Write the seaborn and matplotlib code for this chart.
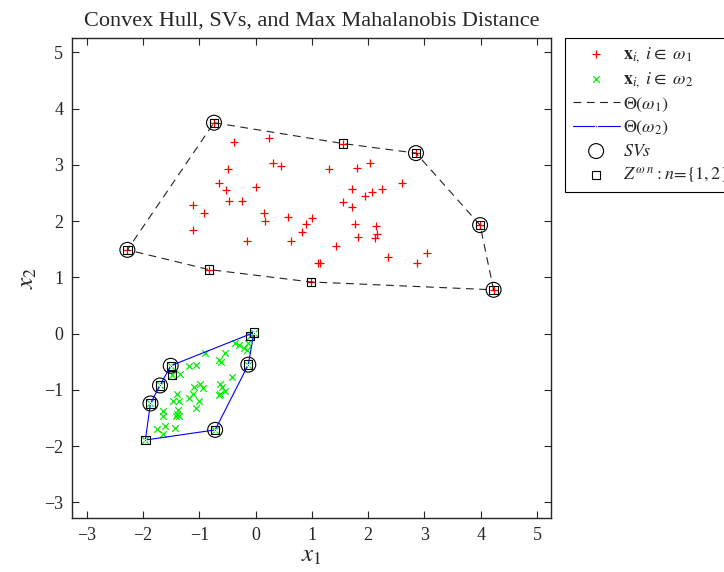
#!/usr/bin/env python3
"""Convex hull, SVs and max Mahalanobis distance (MATLAB-style figure)."""

import matplotlib

matplotlib.use("Agg")
import matplotlib.pyplot as plt
import pandas as pd
import seaborn as sns

# class 1 (red +): hull vertices first, then interior points
hull1_x = [-0.74, 1.55, 2.85, 3.99, 4.23, 0.98, -0.83, -2.28]
hull1_y = [3.75, 3.38, 3.21, 1.93, 0.78, 0.92, 1.14, 1.49]
inner1_x = [-0.39, 0.24, 0.30, 0.45, -0.50, 1.30, 1.81, 2.04, -0.65, -0.53,
            0.00, 2.60, 1.72, 2.25, 2.07, 1.95, -0.47, -0.24, 1.55, 1.71,
            -1.11, -0.92, 0.15, 0.17, 0.57, 1.01, 0.89, 0.83, 1.76, 2.14,
            2.16, 2.13, 1.82, -1.11, -0.15, 0.62, 1.43, 2.35, 3.05, 2.87,
            1.10, 1.15]
inner1_y = [3.40, 3.47, 3.03, 2.98, 2.92, 2.92, 2.95, 3.03, 2.68, 2.55,
            2.60, 2.68, 2.58, 2.58, 2.51, 2.44, 2.35, 2.35, 2.34, 2.25,
            2.28, 2.14, 2.14, 2.00, 2.07, 2.05, 1.95, 1.80, 1.95, 1.92,
            1.77, 1.70, 1.72, 1.85, 1.64, 1.65, 1.56, 1.36, 1.43, 1.25,
            1.25, 1.25]

# class 2 (green x)
hull2_x = [-0.03, -0.13, -0.72, -1.96, -1.87, -1.70, -1.51]
hull2_y = [0.02, -0.55, -1.71, -1.89, -1.24, -0.92, -0.57]
inner2_x = [-0.36, -0.29, -0.20, -0.15, -0.13, -0.10, -0.90, -0.55, -0.65, -0.61,
            -1.19, -1.06, -1.35, -1.49, -0.42, -0.98, -1.09, -0.94, -0.63, -0.59,
            -0.54, -0.64, -0.65, -1.39, -1.11, -1.18, -1.47, -1.36, -1.00, -1.06,
            -1.65, -1.65, -1.38, -1.39, -1.42, -1.36, -1.76, -1.61, -1.64, -1.43]
inner2_y = [-0.16, -0.20, -0.26, -0.29, -0.16, -0.04, -0.34, -0.34, -0.46, -0.51,
            -0.58, -0.55, -0.71, -0.73, -0.77, -0.89, -0.95, -0.96, -0.89, -0.95,
            -1.02, -1.07, -1.09, -1.07, -1.08, -1.15, -1.19, -1.19, -1.20, -1.32,
            -1.38, -1.46, -1.36, -1.43, -1.46, -1.47, -1.69, -1.64, -1.78, -1.68]

# support vectors (circles) and Z points (squares)
sv_x = [-0.74, 2.85, 3.99, 4.23, -2.28, -0.13, -0.72, -1.87, -1.70, -1.51]
sv_y = [3.75, 3.21, 1.93, 0.78, 1.49, -0.55, -1.71, -1.24, -0.92, -0.57]
z_x = hull1_x + hull2_x + [-1.49, -0.10]
z_y = hull1_y + hull2_y + [-0.73, -0.04]

sns.set_style("ticks")
plt.rcParams["font.family"] = ["Liberation Serif", "DejaVu Serif"]
plt.rcParams["mathtext.fontset"] = "stix"

c1 = pd.DataFrame({"x": hull1_x + inner1_x, "y": hull1_y + inner1_y})
c2 = pd.DataFrame({"x": hull2_x + inner2_x, "y": hull2_y + inner2_y})
h1 = pd.DataFrame({"x": hull1_x + hull1_x[:1], "y": hull1_y + hull1_y[:1]})
h2 = pd.DataFrame({"x": hull2_x + hull2_x[:1], "y": hull2_y + hull2_y[:1]})
svs = pd.DataFrame({"x": sv_x, "y": sv_y})
zs = pd.DataFrame({"x": z_x, "y": z_y})

fig = plt.figure(figsize=(7.24, 5.72), dpi=100)
ax = fig.add_axes([0.099, 0.094, 0.662, 0.839])

sns.scatterplot(data=c1, x="x", y="y", marker="+", color="red", s=40,
                linewidth=0.9, label=r"$\mathbf{x}_{i,}\ i \in\ \omega_{\mathit{1}}$", ax=ax)
sns.scatterplot(data=c2, x="x", y="y", marker="x", color="#00ee00", s=22,
                linewidth=0.9, label=r"$\mathbf{x}_{i,}\ i \in\ \omega_{\mathit{2}}$", ax=ax)
sns.lineplot(data=h1, x="x", y="y", sort=False, estimator=None, color="#222222",
             linewidth=0.8, dashes=False, label=r"$\Theta(\omega_{\mathit{1}})$", ax=ax)
ax.lines[-1].set_dashes((7, 5))
sns.lineplot(data=h2, x="x", y="y", sort=False, estimator=None, color="blue",
             linewidth=0.8, marker=".", markersize=3, label=r"$\Theta(\omega_{\mathit{2}})$", ax=ax)
sns.scatterplot(data=svs, x="x", y="y", marker="o", s=115, facecolor="none",
                edgecolor="black", linewidth=0.8, label=r"$\mathit{SVs}$", ax=ax)
sns.scatterplot(data=zs, x="x", y="y", marker="s", s=36, facecolor="none",
                edgecolor="black", linewidth=0.8,
                label=r"$Z^{\omega\ n}\mathit{: n\!=\!\{1,2\}}$", ax=ax)

ax.set_xlim(-3.27, 5.25)
ax.set_ylim(-3.28, 5.25)
ax.set_xticks(range(-3, 6))
ax.set_yticks(range(-3, 6))
ax.set_xticklabels([str(v).replace("-", "\u2212") for v in range(-3, 6)])
ax.set_yticklabels([str(v).replace("-", "\u2212") for v in range(-3, 6)])
ax.tick_params(direction="in", length=5, width=0.8, top=True, right=True,
               labelsize=13, pad=6)
for sp in ax.spines.values():
    sp.set_linewidth(1.0)
    sp.set_visible(True)

ax.set_xlabel(r"$x_{\mathit{1}}$", fontsize=18, labelpad=1)
ax.set_ylabel(r"$x_{\mathit{2}}$", fontsize=18, labelpad=4)
ax.set_title("Convex Hull, SVs, and Max Mahalanobis Distance", fontsize=16, pad=9)

leg = ax.legend(loc="upper left", bbox_to_anchor=(0.781, 0.934),
                bbox_transform=fig.transFigure, borderaxespad=0, fontsize=13,
                fancybox=False, framealpha=1, edgecolor="black",
                handlelength=2.6, handletextpad=0.2, labelspacing=0.3,
                borderpad=0.4)
leg.get_frame().set_linewidth(0.8)

fig.savefig("out.png", dpi=100)
